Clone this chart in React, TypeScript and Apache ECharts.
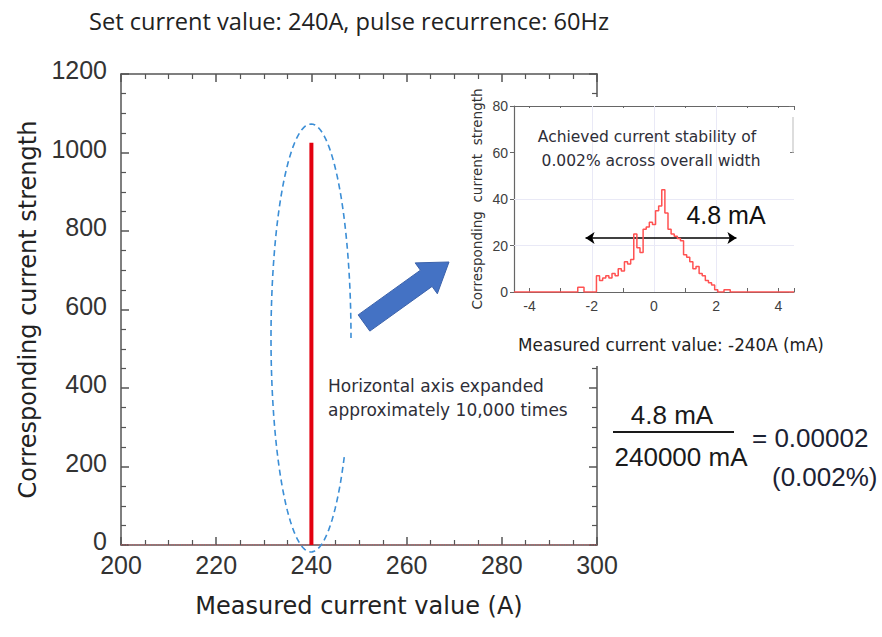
import React, { useEffect, useRef } from "react";
import * as echarts from "echarts";

// ---- Main chart data ----
const mainXMin = 200;
const mainXMax = 300;
const mainYMin = 0;
const mainYMax = 1200;
const spikeX = [240, 240];
const spikeY = [0, 1025];
const baselineX = [200, 300];
const baselineY = [0, 0];

// ---- Inset histogram data (measured current - 240A, mA) ----
const histX = [
  -2.5, -2.4, -2.3, -2.2, -2.1, -2.0, -1.9, -1.8, -1.7, -1.6, -1.5, -1.4, -1.3, -1.2, -1.1, -1.0, -0.9,
  -0.8, -0.7, -0.6, -0.5, -0.4, -0.3, -0.2, -0.1, 0.0, 0.1, 0.2, 0.3, 0.4, 0.5, 0.6, 0.7, 0.8, 0.9, 1.0,
  1.1, 1.2, 1.3, 1.4, 1.5, 1.6, 1.7, 1.8, 1.9, 2.0, 2.1, 2.2, 2.3, 2.4, 2.5,
];
const histY = [
  0, 2, 2, 0, 0, 0, 0, 7, 5, 6, 7, 6, 8, 7, 10, 9, 13, 12, 14, 25, 19, 17, 27, 28, 30, 29, 35, 37, 44, 34,
  27, 25, 24, 23, 22, 16, 15, 13, 10, 11, 8, 7, 5, 4, 3, 1, 0, 0, 1, 1, 0,
];
const insetXMin = -4.5;
const insetXMax = 4.5;
const insetYMin = 0;
const insetYMax = 80;
const insetGridX = [-2, 0, 2];
const insetGridY = [20, 40];
const widthFrom = -2.2;
const widthTo = 2.65;
const widthLevel = 23.2;

const TEXT_FONT = "DejaVu Sans";
const TITLE_FONT = "Open Sans";
const NUM_FONT = "Liberation Sans";

export default function App() {
  const ref = useRef<HTMLDivElement>(null);

  useEffect(() => {
    if (!ref.current) return;
    const chart = echarts.init(ref.current, undefined, { renderer: "svg" });

    // dashed ellipse (decoration)
    const ecx = 311, ecy = 338, erx = 40, ery = 214;
    const ellPts: number[][] = [];
    const t0 = 0.59, t1 = Math.PI * 2;
    const nSeg = 120;
    for (let i = 0; i <= nSeg; i++) {
      const t = t0 + ((t1 - t0) * i) / nSeg;
      ellPts.push([ecx + erx * Math.cos(t), ecy + ery * Math.sin(t)]);
    }

    // block arrow (decoration)
    const T = [364, 323], P = [449, 262];
    const dx = P[0] - T[0], dy = P[1] - T[1];
    const L = Math.hypot(dx, dy);
    const ux = dx / L, uy = dy / L;
    const nx = -uy, ny = ux;
    const sw = 10, hw = 19, hl = 28;
    const Hx = P[0] - ux * hl, Hy = P[1] - uy * hl;
    const arrowPts = [
      [T[0] + sw * nx, T[1] + sw * ny],
      [Hx + sw * nx, Hy + sw * ny],
      [Hx + hw * nx, Hy + hw * ny],
      [P[0], P[1]],
      [Hx - hw * nx, Hy - hw * ny],
      [Hx - sw * nx, Hy - sw * ny],
      [T[0] - sw * nx, T[1] - sw * ny],
    ];

    const mainAxisLine = { show: true, onZero: false, lineStyle: { color: "#555", width: 1.5 } };
    const mainTick = { inside: true, length: 8, lineStyle: { color: "#555", width: 1.5 } };
    const mainMinor = { show: true, splitNumber: 4, length: 5, lineStyle: { color: "#555", width: 1.2 } };
    const insetAxisLine = { show: true, onZero: false, lineStyle: { color: "#666", width: 1.2 } };
    const insetTick = { inside: true, length: 4, lineStyle: { color: "#666", width: 1 } };

    const option: any = {
      animation: false,
      backgroundColor: "#fff",
      grid: [
        { left: 121, top: 74, width: 476, height: 471 },
        { left: 514, top: 106, width: 280, height: 186 },
      ],
      xAxis: [
        {
          gridIndex: 0, type: "value", min: mainXMin, max: mainXMax, interval: 20, position: "bottom",
          axisLine: mainAxisLine, axisTick: mainTick, minorTick: mainMinor, splitLine: { show: false },
          axisLabel: { fontSize: 25, color: "#333", fontFamily: NUM_FONT, margin: 7 },
          name: "Measured current value (A)", nameLocation: "middle", nameGap: 49,
          nameTextStyle: { fontSize: 24, color: "#222", fontFamily: TEXT_FONT },
          z: 0,
        },
        {
          gridIndex: 0, type: "value", min: mainXMin, max: mainXMax, interval: 20, position: "top",
          axisLine: mainAxisLine, axisTick: mainTick, minorTick: mainMinor, splitLine: { show: false },
          axisLabel: { show: false }, z: 0,
        },
        {
          gridIndex: 1, type: "value", min: insetXMin, max: insetXMax, splitNumber: 9, position: "bottom",
          axisLine: insetAxisLine, axisTick: insetTick, splitLine: { show: false },
          axisLabel: {
            fontSize: 14, color: "#404040", fontFamily: NUM_FONT, margin: 7,
            formatter: (v: number) => (Number.isInteger(v) && v % 2 === 0 ? String(v) : ""),
          },
          z: 4,
        },
        {
          gridIndex: 1, type: "value", min: insetXMin, max: insetXMax, splitNumber: 9, position: "top",
          axisLine: insetAxisLine, axisTick: insetTick, splitLine: { show: false },
          axisLabel: { show: false }, z: 4,
        },
      ],
      yAxis: [
        {
          gridIndex: 0, type: "value", min: mainYMin, max: mainYMax, interval: 200, position: "left",
          axisLine: mainAxisLine, axisTick: mainTick, minorTick: mainMinor,
          splitLine: { show: false },
          axisLabel: {
            fontSize: 25, color: "#333", fontFamily: NUM_FONT, margin: 14,
            verticalAlign: "bottom", lineHeight: 8, formatter: (v: number) => String(v),
          },
          name: "Corresponding current strength", nameLocation: "middle", nameGap: 75,
          nameTextStyle: { fontSize: 24, color: "#222", fontFamily: TEXT_FONT },
          z: 0,
        },
        {
          gridIndex: 0, type: "value", min: mainYMin, max: mainYMax, interval: 200, position: "right",
          axisLine: mainAxisLine, axisTick: mainTick, minorTick: mainMinor,
          splitLine: { show: false }, axisLabel: { show: false }, z: 0,
        },
        {
          gridIndex: 1, type: "value", min: insetYMin, max: insetYMax, interval: 20, position: "left",
          axisLine: insetAxisLine,
          axisTick: { inside: false, length: 4, lineStyle: { color: "#666", width: 1 } },
          splitLine: { show: false },
          axisLabel: { fontSize: 14, color: "#404040", fontFamily: NUM_FONT, margin: 6 },
          name: "Corresponding  current  strength", nameLocation: "middle", nameGap: 30,
          nameTextStyle: { fontSize: 13.5, color: "#333", fontFamily: TEXT_FONT },
          z: 4,
        },
        {
          gridIndex: 1, type: "value", min: insetYMin, max: insetYMax, interval: 20, position: "right",
          axisLine: { show: false, onZero: false },
          axisTick: { inside: true, length: 5, lineStyle: { color: "#777", width: 1 } },
          splitLine: { show: false }, axisLabel: { show: false }, z: 4,
        },
      ],
      series: [
        {
          type: "line", xAxisIndex: 0, yAxisIndex: 0, z: 2, showSymbol: false, silent: true,
          data: baselineX.map((x, i) => [x, baselineY[i]]),
          lineStyle: { color: "#e8505a", width: 1.2, type: "dotted" },
        },
        {
          type: "line", xAxisIndex: 0, yAxisIndex: 0, z: 2, showSymbol: false, silent: true,
          data: spikeX.map((x, i) => [x, spikeY[i]]),
          lineStyle: { color: "#e3000f", width: 4 },
        },
        {
          type: "line", xAxisIndex: 2, yAxisIndex: 2, z: 4, showSymbol: false, silent: true,
          data: [[insetXMin, 0]],
          lineStyle: { opacity: 0 },
          markLine: {
            silent: true, symbol: "none", label: { show: false },
            lineStyle: { color: "#e9e9f6", width: 1, type: "solid" },
            data: [
              ...insetGridX.map((v) => ({ xAxis: v })),
              ...insetGridY.map((v) => ({ yAxis: v })),
            ],
          },
        },
        {
          type: "line", xAxisIndex: 2, yAxisIndex: 2, z: 6, showSymbol: false, silent: true,
          step: "middle",
          data: [[insetXMin, 0], ...histX.map((x, i) => [x, histY[i]]), [insetXMax, 0]],
          lineStyle: { color: "#ff5252", width: 1.5 },
          markLine: {
            silent: true, symbol: ["arrow", "arrow"], symbolSize: [9, 9], label: { show: false },
            lineStyle: { color: "#000", width: 1.6, type: "solid" },
            data: [[{ coord: [widthFrom, widthLevel] }, { coord: [widthTo, widthLevel] }]],
          },
        },
      ],
      graphic: [
        // white background of inset
        { type: "rect", z: 3, silent: true, shape: { x: 452, y: 97, width: 350, height: 269 }, style: { fill: "#fff" } },
        // white box behind annotation in inset
        { type: "rect", z: 5, silent: true, shape: { x: 516, y: 108, width: 274, height: 79 }, style: { fill: "#fff" } },
        // partial right frame of inset
        { type: "line", z: 5, silent: true, shape: { x1: 793, y1: 117, x2: 793, y2: 153 }, style: { stroke: "#bbb", lineWidth: 1 } },
        // title
        {
          type: "text", z: 10, x: 89, y: 21,
          style: { text: "Set current value: 240A, pulse recurrence: 60Hz", font: `23.6px '${TITLE_FONT}'`, fill: "#222", verticalAlign: "middle" },
        },
        // dashed ellipse
        {
          type: "polyline", z: 10, silent: true, shape: { points: ellPts },
          style: { stroke: "#3b8ed6", lineWidth: 1.6, lineDash: [6, 4], fill: "none" },
        },
        // block arrow
        {
          type: "polygon", z: 10, silent: true, shape: { points: arrowPts },
          style: { fill: "#4472c4", stroke: "#3b62ab", lineWidth: 1 },
        },
        // annotation near ellipse
        {
          type: "text", z: 10, x: 328, y: 386,
          style: { text: "Horizontal axis expanded", font: `17px '${TEXT_FONT}'`, fill: "#2e2e38", verticalAlign: "middle" },
        },
        {
          type: "text", z: 10, x: 328, y: 410,
          style: { text: "approximately 10,000 times", font: `17px '${TEXT_FONT}'`, fill: "#2e2e38", verticalAlign: "middle" },
        },
        // inset annotations
        {
          type: "text", z: 10, x: 647, y: 137,
          style: { text: "Achieved current stability of", font: `15.5px '${TEXT_FONT}'`, fill: "#2e2e38", align: "center", verticalAlign: "middle" },
        },
        {
          type: "text", z: 10, x: 651, y: 161,
          style: { text: "0.002% across overall width", font: `15.5px '${TEXT_FONT}'`, fill: "#2e2e38", align: "center", verticalAlign: "middle" },
        },
        {
          type: "text", z: 10, x: 726, y: 215,
          style: { text: "4.8 mA", font: `25px '${NUM_FONT}'`, fill: "#111", align: "center", verticalAlign: "middle" },
        },
        {
          type: "text", z: 10, x: 671, y: 345,
          style: { text: "Measured current value: -240A (mA)", font: `16.8px '${TEXT_FONT}'`, fill: "#222", align: "center", verticalAlign: "middle" },
        },
        // formula
        {
          type: "text", z: 10, x: 672, y: 415,
          style: { text: "4.8 mA", font: `26px '${NUM_FONT}'`, fill: "#1a1a1a", align: "center", verticalAlign: "middle" },
        },
        {
          type: "line", z: 10, silent: true, shape: { x1: 613, y1: 432, x2: 734, y2: 432 },
          style: { stroke: "#1a1a1a", lineWidth: 2.2 },
        },
        {
          type: "text", z: 10, x: 681, y: 457,
          style: { text: "240000 mA", font: `26px '${NUM_FONT}'`, fill: "#1a1a1a", align: "center", verticalAlign: "middle" },
        },
        {
          type: "text", z: 10, x: 752, y: 438,
          style: { text: "= 0.00002", font: `26px '${NUM_FONT}'`, fill: "#1c2233", align: "left", verticalAlign: "middle" },
        },
        {
          type: "text", z: 10, x: 772, y: 477,
          style: { text: "(0.002%)", font: `26px '${NUM_FONT}'`, fill: "#1c2233", align: "left", verticalAlign: "middle" },
        },
      ],
    };

    chart.setOption(option);
    return () => chart.dispose();
  }, []);

  return (
    <div
      ref={ref}
      style={{ position: "absolute", left: 0, top: 0, width: 882, height: 637, background: "#fff" }}
    />
  );
}
